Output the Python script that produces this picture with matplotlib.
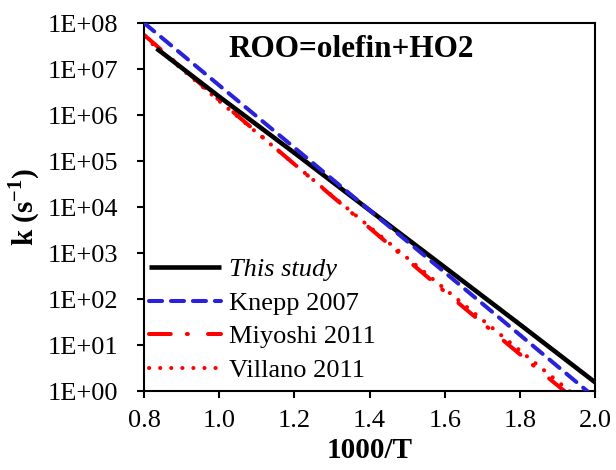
import numpy as np
import matplotlib
matplotlib.use("Agg")
import matplotlib.pyplot as plt
from matplotlib.ticker import FixedLocator, FuncFormatter

# ------------------------------------------------------------
# data (x = 1000/T, k in s^-1)
# ------------------------------------------------------------
x_this = [0.833, 1.0, 1.2, 1.4, 1.6, 1.8, 2.0]
k_this = [2.8e7, 2.5e6, 1.5e5, 8.5e3, 4.9e2, 2.8e1, 1.55]

x_knepp = [0.8, 1.0, 1.2, 1.4, 1.6, 1.8, 2.0]
k_knepp = [1.0e8, 4.4e6, 1.95e5, 8.5e3, 3.8e2, 1.66e1, 0.72]

x_miyoshi = [0.8, 1.0, 1.2, 1.4, 1.6, 1.8, 2.0]
k_miyoshi = [5.5e7, 2.1e6, 8.5e4, 3.5e3, 1.45e2, 6.3, 0.28]

x_villano = [0.8, 1.0, 1.2, 1.4, 1.6, 1.8, 2.0]
k_villano = [5.0e7, 2.0e6, 8.5e4, 3.7e3, 1.66e2, 7.6, 0.35]

labels = ['This study', 'Knepp 2007', 'Miyoshi 2011', 'Villano 2011']
x_ticks = [0.8, 1.0, 1.2, 1.4, 1.6, 1.8, 2.0]
y_ticks = [1e0, 1e1, 1e2, 1e3, 1e4, 1e5, 1e6, 1e7, 1e8]

plt.rcParams['font.family'] = ['Liberation Serif', 'DejaVu Serif']
plt.rcParams['mathtext.fontset'] = 'custom'
plt.rcParams['mathtext.bf'] = 'Liberation Serif:bold'
plt.rcParams['mathtext.rm'] = 'Liberation Serif'

fig = plt.figure(figsize=(6.16, 4.70), dpi=100)
ax = fig.add_axes([0.234, 0.168, 0.732, 0.783])

red = '#FF0000'
blue = '#2A22DA'

ax.plot(x_this, k_this, color='black', lw=3.3, solid_capstyle='butt',
        label=labels[0], zorder=3)
ax.plot(x_knepp, k_knepp, color=blue, lw=2.9, dashes=(3.25, 2.2),
        dash_capstyle='round', label=labels[1], zorder=4)
ax.plot(x_miyoshi, k_miyoshi, color=red, lw=2.9, dashes=(5.4, 4.0, 0.25, 5.0),
        dash_capstyle='round', label=labels[2], zorder=2)
ax.plot(x_villano, k_villano, color=red, lw=2.9, dashes=(0.05, 2.7),
        dash_capstyle='round', label=labels[3], zorder=2)

ax.set_yscale('log')
ax.set_xlim(0.8, 2.0)
ax.set_ylim(1e0, 1e8)
ax.xaxis.set_major_locator(FixedLocator(x_ticks))
ax.yaxis.set_major_locator(FixedLocator(y_ticks))
ax.yaxis.set_minor_locator(FixedLocator([]))
ax.xaxis.set_major_formatter(FuncFormatter(lambda v, p: f'{v:.1f}'))
ax.yaxis.set_major_formatter(FuncFormatter(lambda v, p: f'1E+{int(round(np.log10(v))):02d}'))

for s in ax.spines.values():
    s.set_linewidth(1.5)
ax.tick_params(axis='both', which='major', direction='out', length=5,
               width=1.5, labelsize=19)
ax.tick_params(axis='y', pad=13.5)
ax.tick_params(axis='x', pad=9)

ax.set_xlabel('1000/T', fontsize=21, fontweight='bold', labelpad=3)
ax.set_ylabel(r'k (s$^{\mathbf{-1}}$)', fontsize=21, fontweight='bold', labelpad=4)

ax.text(0.459, 0.929, 'ROO=olefin+HO2', transform=ax.transAxes, ha='center',
        va='center', fontsize=22.5, fontweight='bold')

leg = ax.legend(loc='lower left', frameon=False, fontsize=19,
                handlelength=2.75, handletextpad=0.27, labelspacing=0.38,
                borderpad=0.35, borderaxespad=0.0, bbox_to_anchor=(-0.01, 0.0))
leg.get_texts()[0].set_fontstyle('italic')

fig.savefig('out.png', dpi=100)
